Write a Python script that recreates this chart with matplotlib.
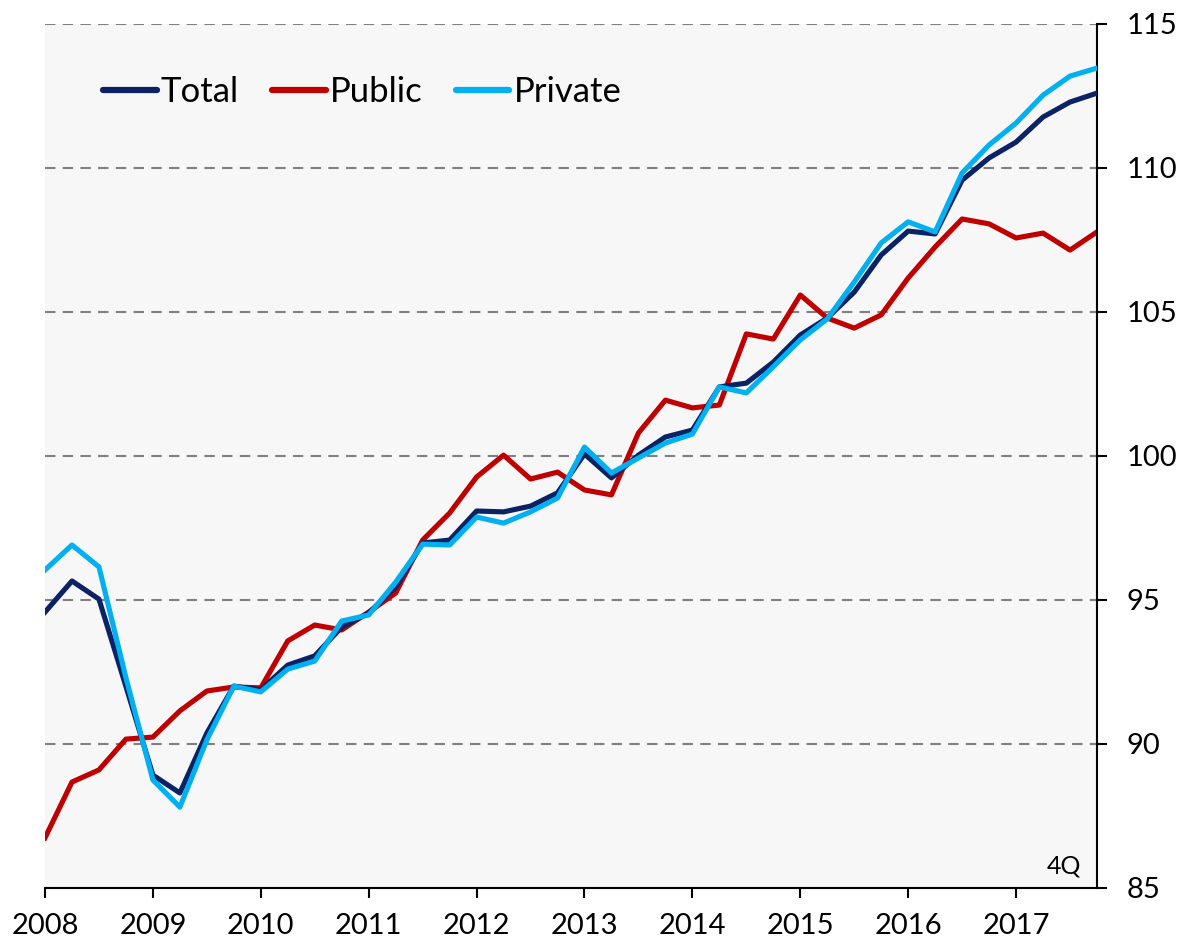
import numpy as np
import matplotlib
matplotlib.use("Agg")
import matplotlib.pyplot as plt

plt.rcParams['font.family'] = ['Lato', 'DejaVu Sans']

# quarterly index, 2008Q1 .. 2017Q4
years = list(range(2008, 2018))
total = [94.58, 95.66, 95.03, 92.00,
         88.92, 88.30, 90.38, 92.01,
         91.88, 92.74, 93.06, 94.06,
         94.55, 95.45, 96.98, 97.08,
         98.09, 98.06, 98.26, 98.72,
         100.07, 99.24, 100.03, 100.66,
         100.90, 102.40, 102.53, 103.26,
         104.20, 104.79, 105.69, 106.98,
         107.81, 107.71, 109.58, 110.35,
         110.90, 111.77, 112.29, 112.60]
public = [86.74, 88.68, 89.10, 90.17,
          90.24, 91.15, 91.84, 91.98,
          91.95, 93.58, 94.13, 93.96,
          94.58, 95.24, 97.08, 98.02,
          99.27, 100.03, 99.20, 99.44,
          98.82, 98.65, 100.80, 101.94,
          101.67, 101.77, 104.24, 104.06,
          105.59, 104.79, 104.44, 104.90,
          106.18, 107.26, 108.23, 108.06,
          107.57, 107.74, 107.15, 107.78]
private = [96.04, 96.91, 96.15, 92.30,
           88.75, 87.81, 90.14, 92.01,
           91.81, 92.60, 92.88, 94.27,
           94.48, 95.62, 96.94, 96.91,
           97.88, 97.67, 98.06, 98.54,
           100.31, 99.41, 99.93, 100.45,
           100.76, 102.40, 102.19, 103.10,
           104.03, 104.76, 106.04, 107.40,
           108.13, 107.78, 109.83, 110.80,
           111.56, 112.53, 113.19, 113.47]
yticks = [85, 90, 95, 100, 105, 110, 115]

x = years[0] + np.arange(len(total)) * 0.25

fig = plt.figure(figsize=(11.78, 9.44), dpi=100)
ax = fig.add_axes([45/1178, 1-888/944, 1052/1178, 864/944])
ax.set_facecolor('#F7F7F7')

for v in yticks[1:]:
    ax.axhline(v, color='#808080', lw=1.5, ls=(0, (5, 3.5)), zorder=1)

ax.plot(x, total, color='#0B2265', lw=3.7, label='Total', zorder=3)
ax.plot(x, public, color='#C00000', lw=3.7, label='Public', zorder=2)
ax.plot(x, private, color='#00B0F0', lw=3.7, label='Private', zorder=4)

ax.set_xlim(x[0], x[-1])
ax.set_ylim(85, 115)
ax.set_xticks(years)
ax.set_xticklabels([str(y) for y in years])
ax.set_yticks(yticks)
ax.yaxis.tick_right()
ax.tick_params(axis='both', direction='out', length=7, width=1.5, labelsize=21, colors='black')
ax.tick_params(axis='x', pad=11)
ax.tick_params(axis='y', pad=14)

ax.spines['top'].set_visible(False)
ax.spines['left'].set_visible(False)
ax.spines['bottom'].set_linewidth(1.5)
ax.spines['right'].set_linewidth(1.5)

ax.text(0.985, 0.012, '4Q', transform=ax.transAxes, ha='right', va='bottom', fontsize=18)

leg = ax.legend(loc='center left', bbox_to_anchor=(0.055, 0.921), ncol=3, frameon=False,
                fontsize=25, handlelength=1.55, handletextpad=0.12, columnspacing=0.95,
                borderpad=0, borderaxespad=0)
for h in leg.get_lines():
    h.set_solid_capstyle('round')
    h.set_linewidth(4.5)

fig.savefig('out.png', dpi=100)
